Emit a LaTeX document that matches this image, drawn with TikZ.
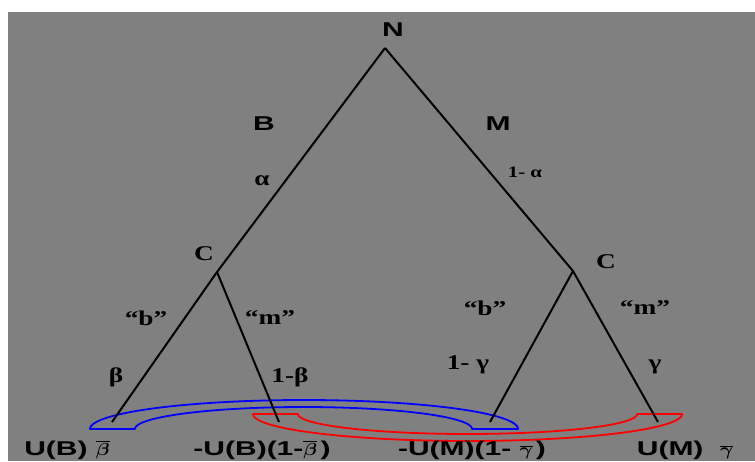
\documentclass[tikz,border=0pt]{standalone}
\usepackage{fontspec}
\usepackage{graphicx}
\newfontfamily\sanslab[FakeStretch=1.5]{Liberation Sans}
\newfontfamily\seriflab[FakeStretch=1.3]{Liberation Serif}
\newcommand\myover[1]{{\fontsize{18}{20}\selectfont\boldmath\scalebox{1.15}[1]{$\overline{#1}$}}}
\definecolor{bggray}{HTML}{808080}
\definecolor{arcblue}{HTML}{0000FF}
\definecolor{arcred}{HTML}{FF0000}
\tikzset{
  sanslbl/.style={inner sep=0pt, font=\sanslab\bfseries\fontsize{20}{24}\selectfont},
  seriflbl/.style={inner sep=0pt, font=\seriflab\bfseries\fontsize{21}{24}\selectfont},
  smallser/.style={inner sep=0pt, font=\seriflab\bfseries\fontsize{16}{18}\selectfont},
  branch/.style={line width=2pt, black},
  bluearc/.style={line width=1.8pt, draw=arcblue},
  redarc/.style={line width=1.8pt, draw=arcred}
}
\begin{document}
\begin{tikzpicture}[x=1pt,y=-1pt]
\useasboundingbox (0,0) rectangle (755,461);
\fill[white] (0,0) rectangle (755,461);
\fill[bggray] (8,12) rectangle (755,461);

% tree vertices
\coordinate (n) at (385,48);
\coordinate (cl) at (217,272);
\coordinate (cr) at (573,271);
\coordinate (l1) at (112,422);
\coordinate (l2) at (279,422);
\coordinate (l3) at (490,422);
\coordinate (l4) at (658,422);

% blue arch
\draw[bluearc, line join=round]
  plot[domain=180:0, samples=80, smooth] ({304+214*cos(\x)}, {429-29*sin(\x)})
  -- (472,429)
  -- plot[domain=0:180, samples=80, smooth] ({303.5+168.5*cos(\x)}, {429-22*sin(\x)})
  -- cycle;

% red trough
\draw[redarc, line join=round]
  plot[domain=180:360, samples=80, smooth] ({467.5+214.5*cos(\x)}, {414-27*sin(\x)})
  -- (637,414)
  -- plot[domain=360:180, samples=80, smooth] ({467.5+169.5*cos(\x)}, {414-20*sin(\x)})
  -- cycle;

% branches
\draw[branch] (n) -- (cl);
\draw[branch] (n) -- (cr);
\draw[branch] (cl) -- (l1);
\draw[branch] (cl) -- (l2);
\draw[branch] (cr) -- (l3);
\draw[branch] (cr) -- (l4);

% labels
\node[sanslbl] (tN) at (393,30) {N};
\node[sanslbl] (tB) at (264,124) {B};
\node[sanslbl] (tM) at (498,124) {M};
\node[seriflbl] (ta) at (262,181) {α};
\node[smallser] (t1a) at (525,172) {1- α};
\node[seriflbl] (tCl) at (204,254) {C};
\node[seriflbl] (tCr) at (606,262) {C};
\node[seriflbl] (tbl) at (146,318) {“b”};
\node[seriflbl] (tml) at (270,318) {“m”};
\node[seriflbl] (tbr) at (485,308) {“b”};
\node[seriflbl] (tmr) at (645,308) {“m”};
\node[seriflbl] (tbeta) at (116,377) {β};
\node[seriflbl] (t1beta) at (290,377) {1-β};
\node[seriflbl] (t1gam) at (468,365) {1- γ};
\node[seriflbl] (tgam) at (655,367) {γ};

% payoffs
\node[sanslbl, anchor=base] (p1) at (67,455) {U(B)\ \myover{\beta}};
\node[sanslbl, anchor=base] (p2) at (262,455) {-U(B)(1-\myover{\beta}\,)};
\node[sanslbl, anchor=base] (p3) at (472,455) {-U(M)(1-\ \myover{\gamma}\,)};
\node[sanslbl, anchor=base] (p4) at (685,455) {U(M)\ \ \myover{\gamma}};
\end{tikzpicture}
\end{document}
